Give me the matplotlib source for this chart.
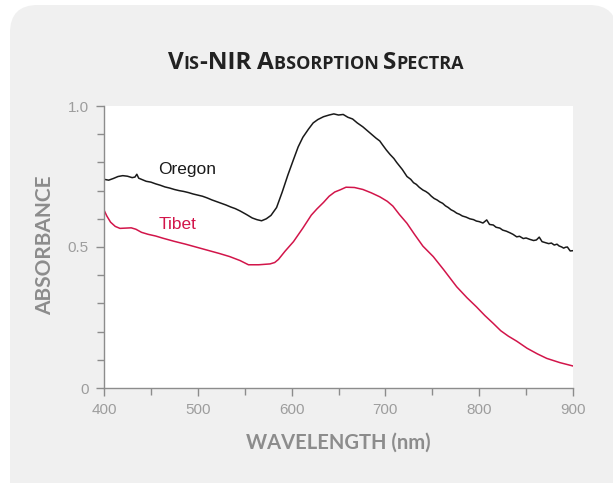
import numpy as np
import matplotlib
matplotlib.use('Agg')
import matplotlib.pyplot as plt
from matplotlib.patches import FancyBboxPatch

# spectra
oregon_wl = [400, 405, 410, 415, 420, 425, 430, 433, 435, 437, 445, 450, 455, 460, 465, 470, 475,
             480, 485, 490, 495, 500, 505, 510, 515, 520, 525, 530, 535, 540, 545, 552, 558, 563,
             568, 573, 578, 584, 590, 596, 602, 607, 612, 618, 623, 628, 634, 640, 645, 650, 655,
             660, 665, 670, 676, 683, 690, 694, 697, 701, 705, 709, 712, 718, 723, 727, 730, 733,
             736, 740, 743, 746, 749, 752, 755, 758, 761, 764, 767, 770, 773, 776, 779, 782, 786,
             790, 794, 797, 800, 804, 808, 811, 815, 818, 822, 825, 829, 833, 836, 840, 843, 847,
             850, 854, 858, 861, 864, 867, 870, 874, 877, 880, 883, 885, 888, 890, 892, 894, 897,
             900]
oregon_abs = [0.740, 0.737, 0.743, 0.750, 0.753, 0.751, 0.746, 0.748, 0.758, 0.744, 0.733, 0.730,
              0.724, 0.719, 0.713, 0.709, 0.704, 0.700, 0.697, 0.693, 0.688, 0.684, 0.680, 0.674,
              0.667, 0.661, 0.655, 0.649, 0.642, 0.636, 0.628, 0.615, 0.603, 0.597, 0.593, 0.600,
              0.612, 0.640, 0.695, 0.755, 0.810, 0.855, 0.889, 0.918, 0.940, 0.952, 0.962, 0.968,
              0.972, 0.968, 0.970, 0.960, 0.954, 0.940, 0.926, 0.906, 0.886, 0.876, 0.862, 0.844,
              0.828, 0.814, 0.800, 0.775, 0.750, 0.740, 0.728, 0.722, 0.712, 0.702, 0.697, 0.690,
              0.680, 0.672, 0.667, 0.660, 0.655, 0.646, 0.640, 0.632, 0.627, 0.620, 0.616, 0.610,
              0.606, 0.600, 0.597, 0.592, 0.590, 0.585, 0.596, 0.580, 0.578, 0.570, 0.567, 0.560,
              0.556, 0.550, 0.545, 0.536, 0.538, 0.530, 0.532, 0.527, 0.523, 0.525, 0.535, 0.519,
              0.516, 0.512, 0.514, 0.507, 0.510, 0.504, 0.500, 0.496, 0.499, 0.500, 0.486, 0.487]

tibet_wl = [400, 403, 407, 412, 417, 423, 429, 434, 440, 447, 455, 463, 475, 487, 499, 511, 523,
            534, 545, 554, 565, 577, 582, 586, 593, 602, 612, 621, 627, 634, 640, 646, 652, 658,
            667, 676, 685, 694, 702, 708, 715, 723, 731, 740, 751, 762, 776, 787, 797, 806, 815,
            823, 831, 840, 851, 862, 872, 886, 900]
tibet_abs = [0.631, 0.610, 0.588, 0.573, 0.566, 0.567, 0.568, 0.563, 0.552, 0.545, 0.539, 0.531,
             0.520, 0.510, 0.499, 0.488, 0.477, 0.466, 0.452, 0.437, 0.437, 0.440, 0.445, 0.456,
             0.485, 0.519, 0.567, 0.613, 0.635, 0.658, 0.680, 0.695, 0.703, 0.712, 0.711, 0.704,
             0.692, 0.678, 0.662, 0.645, 0.615, 0.584, 0.545, 0.503, 0.466, 0.420, 0.359, 0.320,
             0.288, 0.257, 0.229, 0.203, 0.184, 0.166, 0.141, 0.121, 0.105, 0.090, 0.078]

x_ticks = [400, 500, 600, 700, 800, 900]
y_ticks = [0, 0.5, 1.0]
y_ticklabels = ['0', '0.5', '1.0']

red = '#d2154a'
grey = '#8c8c8c'
W, H = 613, 483

fig = plt.figure(figsize=(W / 100, H / 100), dpi=100)
fig.patch.set_facecolor('white')

# rounded grey card behind everything (runs off the bottom edge)
card = FancyBboxPatch((10 / W, -60 / H), 607 / W, (H - 5 + 60) / H,
                      boxstyle='round,pad=0,rounding_size=0.045',
                      transform=fig.transFigure, facecolor='#f0f0f0', edgecolor='none',
                      zorder=-10, mutation_aspect=W / H)
fig.patches.append(card)

ax = fig.add_axes([104 / W, (H - 388) / H, 469 / W, 282 / H])
ax.set_facecolor('white')
ax.plot(oregon_wl, oregon_abs, color='#1a1a1a', lw=1.1)
ax.plot(tibet_wl, tibet_abs, color=red, lw=1.1)

ax.set_xlim(400, 900)
ax.set_ylim(0, 1.0)
ax.set_xticks(x_ticks)
ax.set_xticks(np.arange(450, 900, 100), minor=True)
ax.set_yticks(y_ticks)
ax.set_yticklabels(y_ticklabels)
ax.set_yticks(np.arange(0.1, 1.0, 0.1), minor=True)
for s in ['top', 'right']:
    ax.spines[s].set_visible(False)
for s in ['left', 'bottom']:
    ax.spines[s].set_color(grey)
    ax.spines[s].set_linewidth(1.0)
ax.tick_params(which='both', direction='out', color=grey, width=1.0,
               labelcolor='#9d9d9d', labelsize=11)
ax.tick_params(which='major', length=6, pad=5)
ax.tick_params(which='minor', length=5)
for lab in ax.get_xticklabels() + ax.get_yticklabels():
    lab.set_family('Liberation Sans')

ax.text(458, 0.775, 'Oregon', color='#1a1a1a', fontsize=12.5, family='Liberation Sans',
        va='center')
ax.text(458, 0.58, 'Tibet', color=red, fontsize=12.5, family='Liberation Sans', va='center')

fig.text(45 / W, 1 - 245 / H, 'ABSORBANCE', rotation=90, ha='center', va='center',
         color=grey, fontsize=15, fontweight='bold', family='Lato')
fig.text(338 / W, 1 - 443 / H, 'WAVELENGTH (nm)', ha='center', va='center',
         color=grey, fontsize=14.5, fontweight='bold', family='Lato')

# small caps title made from pieces
pieces = [('V', 17.5), ('IS', 13), ('-NIR ', 17.5), ('A', 17.5), ('BSORPTION ', 13),
          ('S', 17.5), ('PECTRA', 13)]
fig.canvas.draw()
r = fig.canvas.get_renderer()
texts = []
x = 0
for txt, size in pieces:
    t = fig.text(0, 1 - 69 / H, txt, fontsize=size, fontweight='bold', family='Open Sans',
                 color='#222222', va='baseline', ha='left')
    w = t.get_window_extent(renderer=r).width
    texts.append((t, x))
    x += w
x0 = 316 - x / 2
for t, off in texts:
    t.set_x((x0 + off) / W)

fig.savefig('out.png', dpi=100, facecolor=fig.get_facecolor())
